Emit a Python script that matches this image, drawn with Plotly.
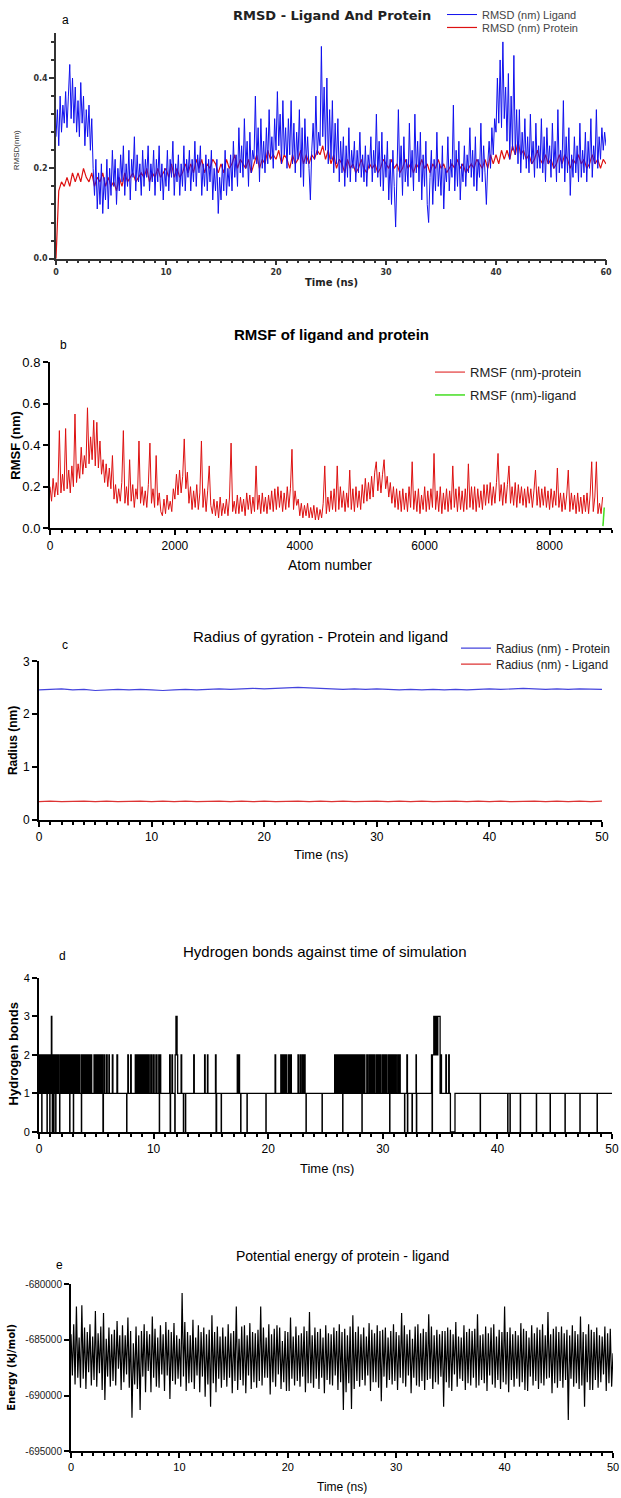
import plotly.graph_objects as go

# ---------------- DATA ----------------
# (a) RMSD, time in ns
lig_time = [i * 0.125 for i in range(401)]
rmsd_ligand = [
    0.27, 0.33, 0.25, 0.36, 0.28, 0.34, 0.30, 0.37,
    0.29, 0.36, 0.43, 0.31, 0.40, 0.30, 0.38, 0.28,
    0.35, 0.27, 0.39, 0.30, 0.36, 0.25, 0.33, 0.27,
    0.34, 0.24, 0.31, 0.20, 0.14, 0.22, 0.11, 0.19,
    0.12, 0.21, 0.10, 0.18, 0.13, 0.22, 0.11, 0.20,
    0.14, 0.24, 0.16, 0.22, 0.12, 0.20, 0.15, 0.23,
    0.17, 0.25, 0.14, 0.21, 0.16, 0.24, 0.13, 0.22,
    0.18, 0.27, 0.15, 0.23, 0.17, 0.21, 0.14, 0.24,
    0.16, 0.22, 0.18, 0.25, 0.15, 0.21, 0.17, 0.24,
    0.14, 0.22, 0.17, 0.25, 0.15, 0.21, 0.13, 0.20,
    0.16, 0.24, 0.15, 0.22, 0.18, 0.26, 0.14, 0.21,
    0.17, 0.23, 0.14, 0.21, 0.16, 0.25, 0.15, 0.22,
    0.18, 0.24, 0.15, 0.22, 0.17, 0.26, 0.16, 0.23,
    0.19, 0.25, 0.14, 0.21, 0.16, 0.23, 0.15, 0.22,
    0.17, 0.24, 0.13, 0.20, 0.15, 0.22, 0.10, 0.18,
    0.13, 0.21, 0.15, 0.24, 0.14, 0.20, 0.16, 0.23,
    0.15, 0.26, 0.18, 0.23, 0.16, 0.29, 0.19, 0.25,
    0.18, 0.31, 0.20, 0.26, 0.16, 0.28, 0.19, 0.24,
    0.22, 0.36, 0.21, 0.29, 0.17, 0.31, 0.20, 0.26,
    0.19, 0.29, 0.21, 0.33, 0.22, 0.27, 0.20, 0.31,
    0.24, 0.37, 0.25, 0.32, 0.21, 0.35, 0.23, 0.29,
    0.20, 0.31, 0.23, 0.35, 0.21, 0.30, 0.19, 0.28,
    0.22, 0.33, 0.18, 0.29, 0.16, 0.31, 0.21, 0.27,
    0.20, 0.13, 0.24, 0.30, 0.22, 0.36, 0.23, 0.28,
    0.25, 0.47, 0.27, 0.38, 0.24, 0.40, 0.21, 0.33,
    0.22, 0.35, 0.19, 0.30, 0.21, 0.31, 0.17, 0.26,
    0.19, 0.27, 0.16, 0.25, 0.18, 0.29, 0.17, 0.24,
    0.20, 0.26, 0.17, 0.24, 0.19, 0.28, 0.18, 0.23,
    0.17, 0.25, 0.16, 0.23, 0.20, 0.27, 0.17, 0.24,
    0.19, 0.32, 0.18, 0.26, 0.16, 0.28, 0.15, 0.23,
    0.18, 0.26, 0.13, 0.22, 0.12, 0.24, 0.16, 0.07,
    0.19, 0.33, 0.18, 0.25, 0.14, 0.27, 0.17, 0.22,
    0.16, 0.30, 0.18, 0.24, 0.15, 0.32, 0.19, 0.26,
    0.17, 0.28, 0.13, 0.23, 0.16, 0.26, 0.12, 0.08,
    0.18, 0.24, 0.12, 0.22, 0.15, 0.28, 0.16, 0.21,
    0.14, 0.25, 0.11, 0.20, 0.17, 0.27, 0.15, 0.22,
    0.18, 0.34, 0.15, 0.24, 0.16, 0.26, 0.13, 0.21,
    0.17, 0.25, 0.16, 0.23, 0.19, 0.29, 0.18, 0.24,
    0.16, 0.27, 0.15, 0.22, 0.18, 0.30, 0.17, 0.25,
    0.19, 0.12, 0.21, 0.26, 0.20, 0.29, 0.23, 0.31,
    0.28, 0.40, 0.30, 0.44, 0.29, 0.48, 0.31, 0.38,
    0.26, 0.41, 0.22, 0.36, 0.24, 0.45, 0.23, 0.33,
    0.21, 0.33, 0.19, 0.28, 0.22, 0.31, 0.20, 0.27,
    0.19, 0.32, 0.21, 0.26, 0.18, 0.30, 0.20, 0.25,
    0.20, 0.31, 0.19, 0.27, 0.17, 0.29, 0.21, 0.25,
    0.18, 0.30, 0.20, 0.26, 0.17, 0.33, 0.19, 0.24,
    0.20, 0.35, 0.17, 0.27, 0.19, 0.29, 0.14, 0.23,
    0.18, 0.27, 0.19, 0.25, 0.17, 0.30, 0.18, 0.24,
    0.19, 0.28, 0.17, 0.26, 0.20, 0.31, 0.18, 0.25,
    0.21, 0.33, 0.20, 0.27, 0.22, 0.29, 0.24, 0.28,
    0.25,
]
prot_time = [i * 0.25 for i in range(201)]
rmsd_protein = [
    0.00, 0.15, 0.17, 0.16, 0.18, 0.16, 0.19, 0.17, 0.19, 0.17, 0.20, 0.18,
    0.17, 0.19, 0.16, 0.18, 0.17, 0.19, 0.16, 0.18, 0.16, 0.17, 0.15, 0.18,
    0.16, 0.19, 0.17, 0.18, 0.19, 0.17, 0.18, 0.19, 0.18, 0.20, 0.17, 0.19,
    0.18, 0.20, 0.18, 0.19, 0.20, 0.18, 0.21, 0.18, 0.20, 0.18, 0.19, 0.21,
    0.19, 0.21, 0.19, 0.22, 0.20, 0.22, 0.19, 0.21, 0.20, 0.22, 0.21, 0.19,
    0.21, 0.19, 0.22, 0.20, 0.21, 0.23, 0.20, 0.22, 0.21, 0.20, 0.22, 0.19,
    0.21, 0.23, 0.20, 0.22, 0.21, 0.24, 0.22, 0.23, 0.22, 0.24, 0.21, 0.23,
    0.22, 0.20, 0.23, 0.21, 0.22, 0.24, 0.21, 0.23, 0.21, 0.23, 0.22, 0.24,
    0.23, 0.25, 0.22, 0.24, 0.21, 0.23, 0.20, 0.22, 0.21, 0.19, 0.22, 0.20,
    0.21, 0.19, 0.20, 0.22, 0.20, 0.19, 0.21, 0.20, 0.21, 0.19, 0.20, 0.22,
    0.21, 0.20, 0.22, 0.20, 0.21, 0.19, 0.20, 0.22, 0.20, 0.21, 0.19, 0.21,
    0.20, 0.22, 0.20, 0.21, 0.19, 0.21, 0.20, 0.22, 0.20, 0.21, 0.19, 0.20,
    0.21, 0.20, 0.22, 0.20, 0.21, 0.19, 0.20, 0.21, 0.20, 0.22, 0.21, 0.20,
    0.22, 0.20, 0.23, 0.21, 0.23, 0.21, 0.24, 0.22, 0.24, 0.22, 0.25, 0.23,
    0.26, 0.23, 0.24, 0.22, 0.23, 0.21, 0.22, 0.24, 0.22, 0.21, 0.23, 0.21,
    0.22, 0.20, 0.21, 0.23, 0.21, 0.23, 0.22, 0.20, 0.22, 0.21, 0.23, 0.21,
    0.22, 0.20, 0.21, 0.23, 0.21, 0.22, 0.20, 0.22, 0.21,
]
rmsd_xticks = [0, 10, 20, 30, 40, 50]
rmsd_xticklabels = ["0", "10", "20", "30", "40", "60"]

# (b) RMSF per atom (every 25 atoms)
rmsf_atom = list(range(0, 8851, 25))
rmsf_protein = [
    0.20, 0.13, 0.24, 0.15, 0.22, 0.16, 0.47, 0.17,
    0.26, 0.18, 0.48, 0.19, 0.28, 0.17, 0.30, 0.20,
    0.55, 0.22, 0.31, 0.24, 0.39, 0.26, 0.35, 0.29,
    0.58, 0.31, 0.44, 0.33, 0.52, 0.30, 0.51, 0.29,
    0.42, 0.26, 0.33, 0.22, 0.31, 0.20, 0.29, 0.19,
    0.35, 0.14, 0.21, 0.12, 0.19, 0.13, 0.22, 0.47,
    0.12, 0.20, 0.11, 0.33, 0.13, 0.21, 0.10, 0.19,
    0.14, 0.42, 0.12, 0.20, 0.11, 0.18, 0.10, 0.21,
    0.41, 0.12, 0.19, 0.10, 0.35, 0.11, 0.17, 0.08,
    0.06, 0.14, 0.07, 0.16, 0.09, 0.13, 0.08, 0.19,
    0.14, 0.26, 0.16, 0.28, 0.17, 0.25, 0.43, 0.19,
    0.27, 0.12, 0.20, 0.09, 0.18, 0.10, 0.21, 0.09,
    0.17, 0.42, 0.10, 0.19, 0.08, 0.18, 0.30, 0.11,
    0.07, 0.14, 0.06, 0.13, 0.05, 0.15, 0.06, 0.12,
    0.07, 0.14, 0.06, 0.15, 0.41, 0.08, 0.13, 0.07,
    0.16, 0.07, 0.15, 0.08, 0.14, 0.06, 0.17, 0.09,
    0.16, 0.07, 0.15, 0.08, 0.30, 0.09, 0.16, 0.07,
    0.17, 0.08, 0.15, 0.07, 0.16, 0.09, 0.18, 0.08,
    0.19, 0.09, 0.20, 0.10, 0.18, 0.08, 0.17, 0.09,
    0.20, 0.10, 0.19, 0.38, 0.09, 0.18, 0.11, 0.14,
    0.06, 0.12, 0.05, 0.11, 0.06, 0.12, 0.05, 0.10,
    0.05, 0.11, 0.04, 0.10, 0.04, 0.09, 0.05, 0.12,
    0.30, 0.07, 0.15, 0.08, 0.18, 0.09, 0.19, 0.08,
    0.30, 0.09, 0.20, 0.10, 0.18, 0.08, 0.17, 0.10,
    0.28, 0.09, 0.19, 0.08, 0.20, 0.10, 0.18, 0.09,
    0.21, 0.12, 0.24, 0.13, 0.22, 0.14, 0.25, 0.15,
    0.27, 0.32, 0.18, 0.27, 0.17, 0.26, 0.33, 0.19,
    0.25, 0.15, 0.22, 0.12, 0.20, 0.10, 0.19, 0.09,
    0.18, 0.08, 0.19, 0.09, 0.17, 0.08, 0.20, 0.10,
    0.32, 0.09, 0.18, 0.08, 0.19, 0.07, 0.16, 0.09,
    0.20, 0.08, 0.18, 0.09, 0.19, 0.10, 0.36, 0.09,
    0.18, 0.08, 0.20, 0.07, 0.17, 0.09, 0.19, 0.08,
    0.18, 0.09, 0.30, 0.10, 0.19, 0.08, 0.20, 0.09,
    0.18, 0.08, 0.19, 0.09, 0.31, 0.10, 0.20, 0.09,
    0.20, 0.08, 0.19, 0.10, 0.18, 0.09, 0.21, 0.11,
    0.21, 0.12, 0.22, 0.11, 0.20, 0.12, 0.22, 0.36,
    0.13, 0.21, 0.11, 0.22, 0.12, 0.21, 0.30, 0.12,
    0.20, 0.11, 0.22, 0.10, 0.21, 0.12, 0.20, 0.11,
    0.19, 0.10, 0.20, 0.12, 0.19, 0.10, 0.18, 0.28,
    0.11, 0.20, 0.10, 0.19, 0.11, 0.20, 0.10, 0.18,
    0.09, 0.19, 0.10, 0.18, 0.11, 0.29, 0.10, 0.17,
    0.08, 0.17, 0.09, 0.16, 0.28, 0.08, 0.17, 0.09,
    0.16, 0.07, 0.17, 0.08, 0.15, 0.07, 0.16, 0.08,
    0.17, 0.07, 0.16, 0.32, 0.08, 0.15, 0.32, 0.07,
    0.12, 0.07, 0.15,
]
rmsf_ligand_atom = [8855, 8862, 8869, 8876]
rmsf_ligand = [0.01, 0.04, 0.07, 0.10]

# (c) Radius of gyration (1 ns sampling)
rg_time = list(range(51))
rg_protein = [
    2.46, 2.47, 2.48, 2.46, 2.47, 2.45, 2.46, 2.47, 2.46, 2.47, 2.46, 2.45,
    2.46, 2.47, 2.46, 2.47, 2.48, 2.47, 2.48, 2.49, 2.48, 2.49, 2.50, 2.51,
    2.50, 2.49, 2.48, 2.47, 2.48, 2.47, 2.48, 2.47, 2.46, 2.47, 2.46, 2.47,
    2.46, 2.47, 2.46, 2.47, 2.48, 2.47, 2.48, 2.49, 2.48, 2.47, 2.48, 2.47,
    2.48, 2.47, 2.47,
]
rg_ligand = [
    0.34, 0.35, 0.34, 0.35, 0.35, 0.34, 0.35, 0.34, 0.35, 0.35, 0.34, 0.35,
    0.34, 0.35, 0.34, 0.35, 0.35, 0.34, 0.35, 0.34, 0.35, 0.34, 0.35, 0.35,
    0.34, 0.35, 0.34, 0.35, 0.34, 0.35, 0.35, 0.34, 0.35, 0.34, 0.35, 0.34,
    0.35, 0.35, 0.34, 0.35, 0.34, 0.35, 0.34, 0.35, 0.35, 0.34, 0.35, 0.34,
    0.35, 0.34, 0.35,
]

# (d) Hydrogen bonds (step series: time ns, count)
hb_time = [
    0.00, 0.05, 0.10, 0.15, 0.20, 0.24, 0.26, 0.30, 0.35, 0.40, 0.45, 0.50,
    0.55, 0.60, 0.65, 0.70, 0.72, 0.78, 0.84, 0.90, 0.94, 0.96, 1.02, 1.08,
    1.12, 1.16, 1.18, 1.24, 1.29, 1.31, 1.38, 1.46, 1.48, 1.55, 1.62, 1.70,
    1.80, 1.82, 1.90, 1.98, 2.06, 2.14, 2.22, 2.30, 2.38, 2.46, 2.54, 2.62,
    2.68, 2.70, 2.78, 2.86, 2.94, 3.00, 3.02, 3.10, 3.18, 3.26, 3.34, 3.42,
    3.50, 3.58, 3.70, 3.72, 3.80, 3.88, 3.96, 4.04, 4.12, 4.20, 4.28, 4.36,
    4.44, 4.52, 4.60,
    4.80, 4.85, 4.95, 5.00, 5.10, 5.14, 5.25, 5.30, 5.40, 5.45, 5.55, 5.58,
    5.62, 5.70, 5.75, 5.90, 5.95, 6.10, 6.14, 6.40, 6.45, 6.80, 6.86,
    7.65, 7.67, 7.75, 7.80, 8.00, 8.05,
    8.40, 8.48, 8.55, 8.62, 8.70, 8.80, 8.90, 8.96, 9.05, 9.12, 9.20, 9.30,
    9.40, 9.45, 9.55, 9.62, 9.75, 9.82, 9.95, 10.05, 10.20, 10.30, 10.45,
    10.50, 10.52, 10.62,
    11.40, 11.45, 11.48, 11.60, 11.65, 11.85, 11.88, 11.95, 12.05, 12.10,
    12.40, 12.45, 12.60, 12.62, 12.78, 12.80, 13.50, 13.55, 14.45, 14.50,
    14.70, 14.74, 15.40, 15.45, 15.50, 15.90, 15.92, 17.30, 17.38, 17.45,
    17.50, 17.60, 17.62, 18.15, 18.17, 19.80, 19.82, 20.60, 20.65, 21.10,
    21.20, 21.30, 21.40, 21.50, 21.60, 21.75, 21.85, 21.95, 22.02, 22.60,
    22.66, 22.80, 22.88, 23.00, 23.08, 23.15, 23.22, 23.30, 23.32, 24.70,
    24.72,
    25.80, 25.88, 25.96, 26.04, 26.12, 26.20, 26.28, 26.36, 26.44, 26.50,
    26.52, 26.60, 26.68, 26.76, 26.84, 26.92, 27.00, 27.08, 27.16, 27.24,
    27.32, 27.40, 27.48, 27.56, 27.64, 27.72, 27.80, 27.88, 27.96, 28.04,
    28.12, 28.18, 28.20, 28.30, 28.38, 28.44,
    28.60, 28.68, 28.80, 28.86, 28.95, 29.02, 29.10, 29.18, 29.25, 29.32,
    29.45, 29.52, 29.60, 29.68, 29.75, 29.82, 29.95, 30.02, 30.10, 30.18,
    30.25, 30.32, 30.45, 30.52, 30.60, 30.62, 30.70, 30.80, 30.86, 30.95,
    31.02, 31.10, 31.18, 31.30, 31.36, 31.45, 31.52,
    31.90, 31.92, 32.10, 32.15, 32.18, 32.55, 32.58, 32.90, 32.93, 32.96,
    34.25, 34.30, 34.33, 34.45, 34.52, 34.58, 34.64, 34.70, 34.76, 34.80,
    35.00, 35.05, 35.12, 35.50, 35.55, 35.75, 35.80, 35.90, 36.30, 38.50,
    38.52, 40.90, 40.92, 41.10, 41.12, 42.00, 42.02, 43.40, 43.42, 44.60,
    44.62, 45.90, 45.92, 47.20, 47.22, 48.70, 48.72, 50.00,
]
hb_count = [
    2, 1, 2, 1, 2, 0, 1, 2, 1, 2, 1, 2,
    1, 2, 1, 0, 2, 1, 2, 1, 0, 2, 1, 3,
    2, 0, 2, 1, 0, 2, 1, 0, 2, 1, 2, 1,
    0, 2, 1, 2, 1, 2, 1, 2, 1, 2, 1, 2,
    0, 2, 1, 2, 1, 0, 2, 1, 2, 1, 2, 1,
    2, 1, 0, 2, 1, 2, 1, 2, 1, 2, 1, 2,
    1, 2, 1,
    2, 1, 2, 1, 2, 1, 2, 1, 2, 1, 2, 0,
    1, 2, 1, 2, 1, 2, 1, 2, 1, 2, 1,
    0, 1, 2, 1, 2, 1,
    2, 1, 2, 1, 2, 1, 2, 1, 2, 1, 2, 1,
    2, 1, 2, 1, 2, 1, 2, 1, 2, 1, 2,
    0, 2, 1,
    2, 0, 1, 2, 1, 0, 2, 3, 2, 1,
    2, 1, 0, 1, 0, 1, 2, 1, 2, 1,
    2, 1, 2, 0, 1, 0, 1, 2, 1, 2,
    1, 0, 1, 0, 1, 0, 1, 2, 1, 2,
    1, 2, 1, 2, 1, 2, 1, 2, 1, 2,
    1, 2, 1, 2, 1, 2, 1, 0, 1, 0,
    1,
    2, 1, 2, 1, 2, 1, 2, 1, 2, 0,
    2, 1, 2, 1, 2, 1, 2, 1, 2, 1,
    2, 1, 2, 1, 2, 1, 2, 1, 2, 1,
    2, 0, 2, 1, 2, 1,
    2, 1, 2, 1, 2, 1, 2, 1, 2, 1,
    2, 1, 2, 1, 2, 1, 2, 1, 2, 1,
    2, 1, 2, 1, 0, 2, 1, 2, 1, 2,
    1, 2, 1, 2, 1, 2, 1,
    0, 1, 2, 0, 1, 0, 1, 2, 0, 1,
    2, 0, 2, 3, 2, 3, 2, 3, 2, 3,
    1, 2, 1, 2, 1, 2, 1, 0, 1, 0,
    1, 0, 1, 0, 1, 0, 1, 0, 1, 0,
    1, 0, 1, 0, 1, 0, 1, 1,
]

# (e) Potential energy (0.125 ns sampling), kJ/mol
pe_time = [i * 0.125 for i in range(401)]
pe_energy = [
    -684500, -688200, -683600, -689000, -682000, -688400, -684800, -689300,
    -681900, -688500, -683900, -689400, -684300, -687900, -683600, -689100,
    -684700, -688600, -682400, -689200, -684400, -688000, -683800, -689500,
    -682600, -690400, -684900, -688300, -683900, -689200, -684500, -688700,
    -684100, -689100, -683300, -687600, -684600, -689500, -683700, -688800,
    -684600, -688100, -683000, -689300, -684200, -692000, -685300, -689000,
    -683800, -689400, -684600, -691300, -684200, -688300, -683600, -689700,
    -684200, -687800, -684500, -689700, -682900, -688400, -684000, -689200,
    -684800, -689300, -683700, -688100, -684500, -689600, -683400, -688200,
    -684100, -690300, -684300, -688700, -683500, -689000, -684600, -688500,
    -684900, -689200, -680800, -688300, -683400, -689600, -684300, -688900,
    -684600, -688800, -683200, -689400, -684800, -688200, -683700, -689700,
    -684300, -688300, -683900, -690100, -684500, -689000, -684100, -691000,
    -682800, -688900, -684300, -689700, -683800, -688500, -684700, -689300,
    -683900, -688600, -684700, -689200, -683600, -688400, -684400, -689800,
    -684200, -688700, -682000, -689500, -684900, -688600, -683800, -689100,
    -683700, -689800, -684600, -688200, -683500, -689400, -684300, -688800,
    -684400, -689300, -684100, -688700, -682000, -689100, -683900, -688400,
    -684800, -688400, -683600, -689900, -684500, -688800, -684000, -689200,
    -683700, -688100, -683900, -689400, -685100, -688800, -684200, -689600,
    -684300, -689600, -683000, -688500, -684700, -689100, -683800, -688700,
    -684600, -689200, -684400, -688300, -683800, -689700, -684200, -688900,
    -682500, -688900, -684600, -689300, -683900, -688500, -684300, -689400,
    -684000, -688400, -684800, -689800, -683700, -688600, -684400, -689000,
    -684500, -689100, -683900, -688200, -684200, -689500, -683600, -688800,
    -684300, -691300, -684000, -689700, -684600, -688900, -683800, -691200,
    -682800, -689400, -684300, -688700, -683800, -689200, -684500, -688600,
    -683900, -689100, -684700, -688200, -683500, -689600, -684100, -688800,
    -684400, -688800, -683700, -689300, -684200, -690500, -684100, -688300,
    -683900, -689300, -684800, -688600, -684200, -689000, -683600, -688700,
    -684300, -689500, -684600, -688400, -682600, -688900, -683700, -689200,
    -684500, -688200, -684100, -689800, -684900, -688400, -683800, -689100,
    -683600, -689200, -684400, -688700, -684000, -689500, -684300, -688600,
    -682700, -688500, -683800, -689400, -684600, -688800, -684100, -689000,
    -684500, -688300, -684200, -691000, -684200, -688800, -683900, -689300,
    -684100, -689600, -684500, -688100, -683400, -689200, -684700, -688500,
    -684800, -688700, -683700, -689500, -684300, -688900, -684000, -689100,
    -684200, -688400, -684000, -689300, -682700, -689100, -684600, -688600,
    -684500, -688900, -683800, -689600, -684400, -688200, -683900, -689000,
    -683600, -689300, -684700, -688600, -684100, -689400, -684300, -688800,
    -682000, -689000, -684300, -689700, -683900, -688600, -684500, -689200,
    -684200, -688500, -684600, -689200, -683500, -688800, -684000, -689500,
    -684200, -689600, -684800, -688300, -683700, -689100, -684400, -688700,
    -683900, -689400, -684100, -688900, -683600, -689100, -684600, -688500,
    -682500, -688400, -684500, -689800, -684000, -688900, -683800, -689300,
    -684300, -688700, -683800, -689300, -684400, -688600, -684100, -692200,
    -684600, -688500, -683700, -689200, -684200, -688900, -684500, -689400,
    -682900, -689100, -684300, -691000, -684500, -688800, -683600, -689500,
    -684100, -689500, -684300, -688600, -683900, -689300, -684600, -688800,
    -684700, -688100, -683800, -689600, -684400, -688900, -684000, -689200,
    -686200,
]
pe_yticks = [-695000, -690000, -685000, -680000]
pe_yticklabels = ["-695000", "-690000", "-685000", "-680000"]

# ---------------- LAYOUT HELPERS ----------------
W, H = 621, 1498


def fx(p):
    return p / W


def fy(p):
    return 1 - p / H


FA = "DejaVu Sans, Liberation Sans, Arial, sans-serif"
FN = "Liberation Sans Narrow, Arial Narrow, Liberation Sans, Arial, sans-serif"


def axis(x0, x1, rng, anchor, lw=2, color="black", **kw):
    d = dict(domain=[x0, x1], range=rng, anchor=anchor, showline=True,
             linecolor=color, linewidth=lw, ticks="outside", ticklen=5,
             tickwidth=lw, tickcolor=color, showgrid=False, zeroline=False,
             fixedrange=True)
    d.update(kw)
    return d


def leg(x, ytop, size, color="#222222", family=FN):
    return dict(x=fx(x), y=fy(ytop), xanchor="left", yanchor="top",
                bgcolor="rgba(0,0,0,0)", font=dict(family=family, size=size, color=color),
                tracegroupgap=0, itemwidth=30)


fig = go.Figure()

# (a)
fig.add_trace(go.Scatter(x=prot_time, y=rmsd_protein, xaxis="x", yaxis="y",
                         mode="lines", line=dict(color="#dd1111", width=1.2, simplify=False),
                         name="RMSD (nm) Protein", legend="legend2"))
fig.add_trace(go.Scatter(x=lig_time, y=rmsd_ligand, xaxis="x", yaxis="y",
                         mode="lines", line=dict(color="#1010ee", width=1, simplify=False),
                         name="RMSD (nm) Ligand", legend="legend"))
# (b)
fig.add_trace(go.Scatter(x=rmsf_atom, y=rmsf_protein, xaxis="x2", yaxis="y2",
                         mode="lines", line=dict(color="#dd1111", width=1, simplify=False),
                         name="RMSF (nm)-protein", legend="legend3"))
fig.add_trace(go.Scatter(x=rmsf_ligand_atom, y=rmsf_ligand, xaxis="x2", yaxis="y2",
                         mode="lines", line=dict(color="#44dd22", width=1.5),
                         name="RMSF (nm)-ligand", legend="legend4"))
# (c)
fig.add_trace(go.Scatter(x=rg_time, y=rg_protein, xaxis="x3", yaxis="y3",
                         mode="lines", line=dict(color="#4444dd", width=1.2),
                         name="Radius (nm) - Protein", legend="legend5"))
fig.add_trace(go.Scatter(x=rg_time, y=rg_ligand, xaxis="x3", yaxis="y3",
                         mode="lines", line=dict(color="#dd3333", width=1.2),
                         name="Radius (nm) - Ligand", legend="legend6"))
# (d)
fig.add_trace(go.Scatter(x=hb_time, y=hb_count, xaxis="x4", yaxis="y4",
                         mode="lines", line=dict(color="black", width=1.3, shape="hv", simplify=False),
                         showlegend=False))
# (e)
fig.add_trace(go.Scatter(x=pe_time, y=pe_energy, xaxis="x5", yaxis="y5",
                         mode="lines", line=dict(color="black", width=1.2, simplify=False),
                         showlegend=False))

tickA = dict(family=FA, size=8, color="#333333", weight="bold")
tickN = dict(family=FN, size=12, color="black")

layout = dict(
    width=W, height=H, margin=dict(l=0, r=0, t=0, b=0),
    template="none", paper_bgcolor="white", plot_bgcolor="rgba(0,0,0,0)",
    font=dict(family=FN, color="black"),
    xaxis=axis(fx(56), fx(606), [0, 50], "y", lw=1.5, color="#333333",
               tickvals=rmsd_xticks, ticktext=rmsd_xticklabels, tickfont=tickA,
               minor=dict(dtick=1, tick0=0, ticks="outside", ticklen=3, tickwidth=1.5, tickcolor="#333333")),
    yaxis=axis(fy(252), fy(25), [0, 0.5], "x", lw=1.5, color="#333333",
               tickvals=[0, 0.2, 0.4], tickformat=".1f", tickfont=tickA,
               minor=dict(dtick=0.04, tick0=0, ticks="outside", ticklen=3, tickwidth=1.5, tickcolor="#333333")),
    xaxis2=axis(fx(50), fx(612), [0, 9000], "y2",
                tickvals=[0, 2000, 4000, 6000, 8000], tickfont=dict(family=FN, size=12),
                minor=dict(dtick=200, tick0=0, ticks="outside", ticklen=3, tickwidth=2, tickcolor="black")),
    yaxis2=axis(fy(523), fy(356), [0, 0.8], "x2",
                tickvals=[0, 0.2, 0.4, 0.6, 0.8], tickformat=".1f", tickfont=dict(family=FN, size=13)),
    xaxis3=axis(fx(39), fx(602), [0, 50], "y3", tickvals=[0, 10, 20, 30, 40, 50], tickfont=tickN,
                minor=dict(dtick=1, tick0=0, ticks="outside", ticklen=3, tickwidth=2, tickcolor="black")),
    yaxis3=axis(fy(816), fy(657), [0, 3], "x3", tickvals=[0, 1, 2, 3], tickfont=tickN),
    xaxis4=axis(fx(39), fx(612), [0, 50], "y4", tickvals=[0, 10, 20, 30, 40, 50], tickfont=tickN,
                minor=dict(dtick=1, tick0=0, ticks="outside", ticklen=3, tickwidth=2, tickcolor="black")),
    yaxis4=axis(fy(1130), fy(975), [0, 4], "x4", tickvals=[0, 1, 2, 3, 4], tickfont=dict(family=FN, size=11)),
    xaxis5=axis(fx(71), fx(613), [0, 50], "y5", tickvals=[0, 10, 20, 30, 40, 50],
                tickfont=dict(family=FN, size=11),
                minor=dict(dtick=1, tick0=0, ticks="outside", ticklen=3, tickwidth=2, tickcolor="black")),
    yaxis5=axis(fy(1451), fy(1283), [-695000, -680000], "x5", tickvals=pe_yticks,
                ticktext=pe_yticklabels, tickfont=dict(family=FN, size=10, color="#222222")),
    legend=leg(442, -8, 11, color="#444444", family="Liberation Sans, Arial, sans-serif"),
    legend2=leg(442, 5, 11, color="#444444", family="Liberation Sans, Arial, sans-serif"),
    legend3=leg(430, 351, 13),
    legend4=leg(430, 374, 13),
    legend5=leg(456, 629, 12),
    legend6=leg(456, 645, 12),
)
fig.update_layout(**layout)

ann = []


def text(t, x, y, size, family=FN, weight="normal", color="black", angle=0, xanchor="center"):
    ann.append(dict(text=t, x=fx(x), y=fy(y), xref="paper", yref="paper", showarrow=False,
                    xanchor=xanchor, yanchor="middle", textangle=angle,
                    font=dict(family=family, size=size, weight=weight, color=color)))


# titles
text("RMSD - Ligand And Protein", 332, 8, 13, family=FA, weight="bold", color="#222222")
text("RMSF of ligand and protein", 331, 328, 15, weight="bold")
text("Radius of gyration - Protein and ligand", 320, 632, 15)
text("Hydrogen bonds against time of simulation", 325, 949, 15)
text("Potential energy of protein - ligand", 342, 1255, 14)
# panel letters
text("a", 60, 12, 12, family="Liberation Sans, Arial", xanchor="left")
text("b", 58, 339, 12, family="Liberation Sans, Arial", xanchor="left")
text("c", 60, 640, 12, family="Liberation Sans, Arial", xanchor="left")
text("d", 57, 953, 12, family="Liberation Sans, Arial", xanchor="left")
text("e", 54, 1264, 12, family="Liberation Sans, Arial", xanchor="left")
# axis titles
text("Time (ns)", 331, 276, 10, family=FA, weight="bold", color="#222222")
text("RMSD(nm)", 16, 143, 8, family="Liberation Sans, Arial", color="#333333", angle=-90)
text("Atom number", 330, 560, 14)
text("RMSF (nm)", 16, 440, 13, weight="bold", angle=-90)
text("Time (ns)", 321, 851, 13)
text("Radius (nm)", 13, 737, 12, weight="bold", angle=-90)
text("Time (ns)", 327, 1167, 13)
text("Hydrogen bonds", 13, 1052, 13, weight="bold", angle=-90)
text("Time (ns)", 342, 1487, 12)
text("Energy (kJ/mol)", 12, 1367, 10, family=FA, weight="bold", angle=-90)

fig.update_layout(annotations=ann)

fig.write_html("out.html")
